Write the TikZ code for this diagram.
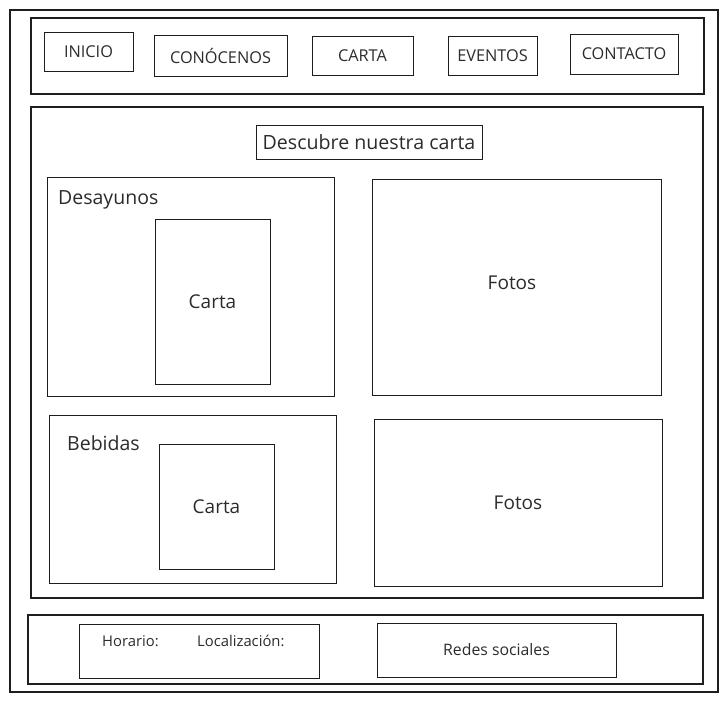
\documentclass[tikz,border=0pt]{standalone}
\usepackage{fontspec}
\setmainfont{Open Sans}
\definecolor{ink}{HTML}{1E1E1E}
\definecolor{inktext}{HTML}{2B2B2B}
\tikzset{every picture/.append style={x=1pt, y=-1pt}}
\tikzset{
    box/.style={draw=ink, line width=1pt, inner sep=0pt, outer sep=0pt,
        text=inktext, font=\fontsize{19}{22}\selectfont},
    navbox/.style={box, font=\fontsize{16.3}{19}\selectfont},
    footbox/.style={box, font=\fontsize{14.8}{17}\selectfont},
    caption/.style={text=inktext, inner sep=0pt, anchor=west}
}

\begin{document}
\begin{tikzpicture}
	\useasboundingbox (0, 0) rectangle (728, 702);
	\node (frame) [box, line width=2pt, minimum width=708pt, minimum height=682pt] at (364, 351) {};

	% menu
	\node (nav) [box, line width=1.2pt, minimum width=673pt, minimum height=76pt] at (367.5, 56) {};
	\node (inicio) [navbox, minimum width=89pt, minimum height=39pt] at (88.5, 51.5) {INICIO};
	\node (conocenos) [navbox, minimum width=133pt, minimum height=41pt] at (220.5, 55.5) {CONÓCENOS};
	\node (cartamenu) [navbox, minimum width=101pt, minimum height=39pt] at (362.5, 55.5) {CARTA};
	\node (eventos) [navbox, minimum width=89pt, minimum height=39pt] at (492.5, 55.5) {EVENTOS};
	\node (contacto) [navbox, minimum width=108pt, minimum height=40pt] at (624, 54) {CONTACTO};

	% contenido
	\node (main) [box, line width=1.2pt, minimum width=672pt, minimum height=491pt] at (367, 352.5) {};
	\node (titulo) [box, minimum width=226pt, minimum height=34pt, font=\fontsize{19.6}{22}\selectfont] at (369, 142) {Descubre nuestra carta};
	\node (desayunos) [box, minimum width=287pt, minimum height=219pt] at (190.5, 286.5) {};
	\node (desayunoslbl) [caption, font=\fontsize{19.5}{22}\selectfont] at (58, 200) {Desayunos};
	\node (carta1) [box, minimum width=115pt, minimum height=165pt] at (212.5, 301.5) {Carta};
	\node (fotos1) [box, minimum width=289pt, minimum height=216pt] at (516.5, 287) {};
	\node (fotos1lbl) [text=inktext, font=\fontsize{19}{22}\selectfont] at (512, 283) {Fotos};
	\node (bebidas) [box, minimum width=287pt, minimum height=168pt] at (192.5, 499) {};
	\node (bebidaslbl) [caption, font=\fontsize{19.5}{22}\selectfont] at (67, 443) {Bebidas};
	\node (carta2) [box, minimum width=115pt, minimum height=125pt] at (216.5, 506.5) {Carta};
	\node (fotos2) [box, minimum width=288pt, minimum height=167pt] at (518, 502.5) {Fotos};

	% pie
	\node (footer) [box, line width=1.2pt, minimum width=675pt, minimum height=69pt] at (365.5, 649.5) {};
	\node (info) [footbox, minimum width=240pt, minimum height=54pt] at (199, 651) {};
	\node (horario) [caption, font=\fontsize{14.8}{17}\selectfont] at (102, 641) {Horario:};
	\node (localizacion) [caption, font=\fontsize{14.8}{17}\selectfont] at (197, 641) {Localización:};
	\node (redes) [footbox, font=\fontsize{15.8}{18}\selectfont, minimum width=239pt, minimum height=54pt] at (496.5, 650) {Redes sociales};
\end{tikzpicture}
\end{document}
